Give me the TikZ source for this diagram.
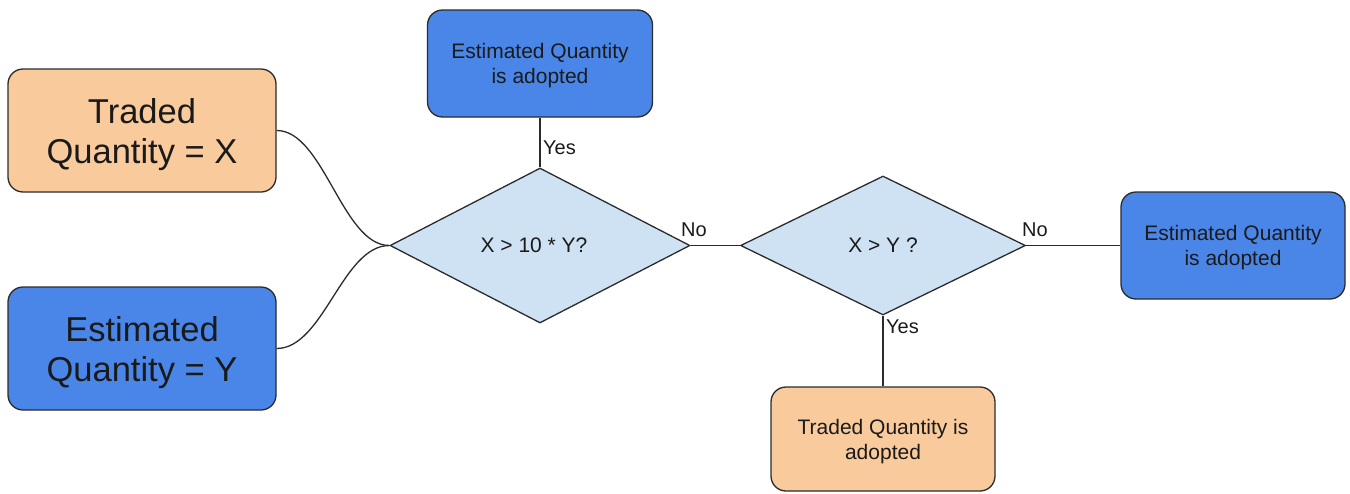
\documentclass[tikz,border=0pt]{standalone}
\usepackage{fontspec}
\setmainfont{Liberation Sans}
\usetikzlibrary{shapes.geometric}
\definecolor{orangefill}{HTML}{F9CB9C}
\definecolor{bluefill}{HTML}{4A86E8}
\definecolor{diafill}{HTML}{CFE2F3}
\definecolor{edge}{HTML}{2B2B2B}
\definecolor{txt}{HTML}{1A1A1A}
\tikzset{
  box/.style={draw=edge, line width=1.3pt, rounded corners=15pt, align=center, text=txt, inner sep=0pt, text depth=0pt},
  bigbox/.style={box, minimum width=268pt, minimum height=123pt, font=\fontsize{34.5}{40}\selectfont},
  smallbox/.style={box, minimum width=224pt, minimum height=106pt, font=\fontsize{21}{25}\selectfont},
  orangebox/.style={fill=orangefill},
  bluebox/.style={fill=bluefill},
  decision/.style={diamond, draw=edge, line width=1.3pt, fill=diafill, inner sep=0pt, aspect=2, text=txt, font=\fontsize{21}{25}\selectfont},
  conn/.style={draw=edge, line width=1.3pt},
  lbl/.style={inner sep=1pt, text=txt, font=\fontsize{20}{24}\selectfont}
}
\begin{document}
\begin{tikzpicture}[x=1pt,y=-1pt]
\useasboundingbox (0,0) rectangle (1350,493);
\node[bigbox, orangebox] (tq) at (142,130.5) {Traded\\Quantity = X};
\node[bigbox, bluebox] (eq) at (142,348.5) {Estimated\\Quantity = Y};
\node[smallbox, bluebox, minimum width=225pt, minimum height=107pt] (top) at (540,63.5) {Estimated Quantity\\is adopted};
\node[decision, minimum width=300pt, minimum height=155pt, text depth=0pt] (d1) at (540,245.5) {\hspace*{-12pt}X > 10 * Y?};
\node[decision, minimum width=285pt, minimum height=139pt] (d2) at (883,245.5) {X > Y ?};
\node[smallbox, bluebox, minimum height=107pt] (right) at (1233,245.5) {Estimated Quantity\\is adopted};
\node[smallbox, orangebox, minimum height=104pt] (bot) at (883,439) {Traded Quantity is\\adopted};
\draw[conn] (tq.east) .. controls +(47,0) and +(-47,0) .. (d1.west);
\draw[conn] (eq.east) .. controls +(47,0) and +(-47,0) .. (d1.west);
\draw[conn] (top.south) -- (d1.north);
\draw[conn] (d1.east) -- (d2.west);
\draw[conn] (d2.east) -- (right.west);
\draw[conn] (d2.south) -- (bot.north);
\node[lbl, anchor=west] (l1) at (542,148) {Yes};
\node[lbl] (l2) at (694,230) {No};
\node[lbl] (l3) at (1035,230) {No};
\node[lbl, anchor=west] (l4) at (885,327) {Yes};
\end{tikzpicture}
\end{document}
